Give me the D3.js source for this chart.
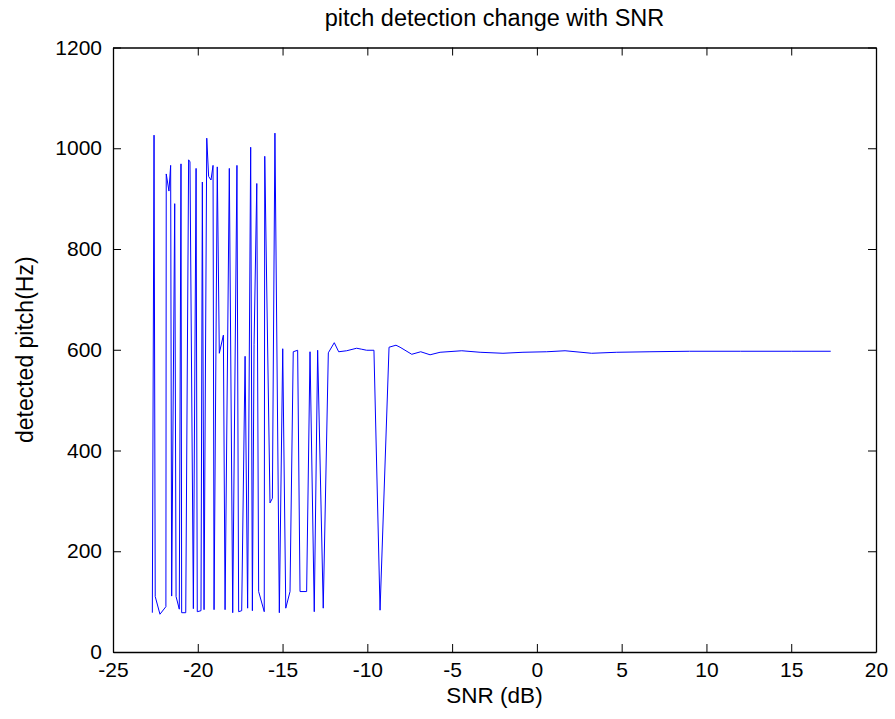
<!DOCTYPE html>
<html>
<head>
<meta charset="utf-8">
<script src="https://cdn.jsdelivr.net/npm/d3@7"></script>
<style>
  body { margin: 0; background: #fff; }
  svg text { font-family: "Liberation Sans", Arial, sans-serif; fill: #000; }
</style>
</head>
<body>
<div id="chart"></div>
<script>
// SNR (dB) and detected pitch (Hz)
let snr = [
  -22.68, -22.58, -22.51, -22.23, -21.88, -21.86, -21.70, -21.60, -21.54, -21.36,
  -21.28, -21.09, -20.99, -20.95, -20.71, -20.54, -20.46, -20.26, -20.10, -20.03,
  -19.81, -19.73, -19.63, -19.47, -19.36, -19.22, -19.10, -19.04, -18.85, -18.73,
  -18.49, -18.39, -18.14, -17.94, -17.69, -17.59, -17.41, -17.21, -17.06, -16.88,
  -16.78, -16.68, -16.52, -16.41, -16.08, -16.05, -15.74, -15.60, -15.45, -15.19,
  -14.99, -14.81, -14.56, -14.37, -14.11, -13.97, -13.58, -13.38, -13.13, -12.93,
  -12.60, -12.30, -11.95, -11.69, -11.22, -10.63, -10.33, -10.04, -9.61, -9.25,
  -8.72, -8.31, -8.07, -7.38, -6.85, -6.30, -5.71, -4.43, -3.35, -2.00,
  -0.82, 0.58, 1.66, 3.23, 4.71, 6.67, 9.0, 12.0, 15.0, 17.33
]
let pitch = [
  78, 1026, 110, 75, 90, 949, 915, 966, 111, 890,
  110, 85, 969, 78, 78, 977, 973, 86, 960, 80,
  82, 933, 84, 1020, 944, 937, 966, 84, 963, 593,
  629, 84, 960, 78, 966, 80, 82, 587, 87, 1002,
  82, 611, 930, 120, 80, 984, 296, 305, 1030, 78,
  602, 87, 120, 596, 599, 120, 120, 596, 80, 599,
  87, 594, 614, 596, 598, 603, 601, 599, 599, 83,
  605, 609, 605, 591, 596, 590, 595, 598, 595, 593,
  595, 596, 598, 593, 595, 596, 597, 597, 597, 597
]
let x_ticks = [-25, -20, -15, -10, -5, 0, 5, 10, 15, 20]
let y_ticks = [0, 200, 400, 600, 800, 1000, 1200]

let width = 895,
    height = 719,
    margin = {top: 47.5, right: 19, bottom: 67, left: 113}

let svg = d3.select("#chart").append("svg")
    .attr("width", width)
    .attr("height", height)

let x = d3.scaleLinear()
    .domain([-25, 20])
    .range([margin.left, width - margin.right])
let y = d3.scaleLinear()
    .domain([0, 1200])
    .range([height - margin.bottom, margin.top])

let tick_len = 8
let plain = function(d) { return String(d) }

// bottom / left axes with labels, top / right with ticks only
svg.append("g")
    .attr("transform", "translate(0," + y(0) + ")")
    .call(d3.axisBottom(x).tickValues(x_ticks).tickFormat(plain)
      .tickSizeInner(-tick_len).tickSizeOuter(0).tickPadding(10))
svg.append("g")
    .attr("transform", "translate(" + x(-25) + ",0)")
    .call(d3.axisLeft(y).tickValues(y_ticks).tickFormat(plain)
      .tickSizeInner(-tick_len).tickSizeOuter(0).tickPadding(11))
svg.append("g")
    .attr("transform", "translate(0," + y(1200) + ")")
    .call(d3.axisTop(x).tickValues(x_ticks).tickSizeInner(-tick_len).tickSizeOuter(0).tickFormat(""))
svg.append("g")
    .attr("transform", "translate(" + x(20) + ",0)")
    .call(d3.axisRight(y).tickValues(y_ticks).tickSizeInner(-tick_len).tickSizeOuter(0).tickFormat(""))

svg.selectAll(".domain").attr("stroke", "#000").attr("stroke-width", 1.3)
svg.selectAll(".tick line").attr("stroke", "#000")
svg.selectAll(".tick text")
    .style("font-size", "21px")
    .style("font-family", "'Liberation Sans', Arial, sans-serif")
    .attr("fill", "#000")

let line = d3.line()
    .x(function(d, i) { return x(snr[i]) })
    .y(function(d) { return y(d) })

svg.append("path")
    .datum(pitch)
    .attr("d", line)
    .attr("fill", "none")
    .attr("stroke", "#0000ff")
    .attr("stroke-width", 1)

svg.append("text")
    .attr("x", (x(-25) + x(20)) / 2)
    .attr("y", 26)
    .attr("text-anchor", "middle")
    .style("font-size", "23.5px")
    .text("pitch detection change with SNR")

svg.append("text")
    .attr("x", (x(-25) + x(20)) / 2)
    .attr("y", 703)
    .attr("text-anchor", "middle")
    .style("font-size", "22.5px")
    .text("SNR (dB)")

svg.append("text")
    .attr("transform", "translate(33," + (y(0) + y(1200)) / 2 + ") rotate(-90)")
    .attr("text-anchor", "middle")
    .style("font-size", "23px")
    .text("detected pitch(Hz)")
</script>
</body>
</html>
